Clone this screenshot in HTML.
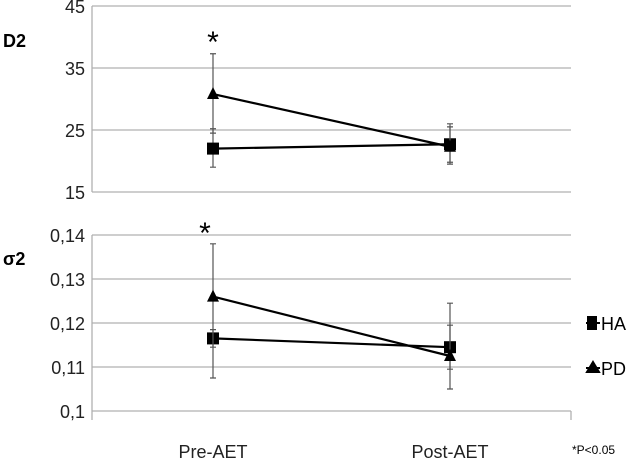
<!DOCTYPE html>
<html><head><meta charset="utf-8"><style>
body{margin:0;background:#fff;}
svg{display:block;font-family:"Liberation Sans",sans-serif;}
</style></head><body>
<svg id="c" width="633" height="462"></svg>
<script>
const categories=["Pre-AET","Post-AET"];
const d2HA=[22,22.7], d2HAerrLo=[19,19.5], d2HAerrHi=[25.2,25.5];
const d2PD=[30.8,22.3], d2PDerrLo=[24.5,19.8], d2PDerrHi=[37.3,26];
const s2HA=[0.1165,0.1145], s2HAerrLo=[0.1145,0.1095], s2HAerrHi=[0.1185,0.1195];
const s2PD=[0.126,0.1125], s2PDerrLo=[0.1075,0.105], s2PDerrHi=[0.138,0.1245];
const d2Ticks=[15,25,35,45], d2Labels=["15","25","35","45"];
const s2Ticks=[0.1,0.11,0.12,0.13,0.14], s2Labels=["0,1","0,11","0,12","0,13","0,14"];
const NS="http://www.w3.org/2000/svg", svg=document.getElementById('c');
function mk(t,a,txt){const e=document.createElementNS(NS,t);for(const k in a)e.setAttribute(k,a[k]);if(txt!=null)e.textContent=txt;svg.appendChild(e);return e;}
const L=92,R=571;
const xS=i=>[213,450][i];
function panel(ticks,labels,yS,HA,HAlo,HAhi,PD,PDlo,PDhi,name){
  ticks.forEach((t,i)=>{
    const g=mk('line',{x1:L,x2:R,y1:yS(t),y2:yS(t),stroke:'#b0b0b0','stroke-width':1.3});
    
    const tx=mk('text',{x:85,y:yS(t)+7,'text-anchor':'end','font-size':18,fill:'#222'},labels[i]);
    
  });
  const ax=mk('line',{x1:L,x2:L,y1:yS(ticks[ticks.length-1]),y2:yS(ticks[0])+(name==='sigma2'?9:0),stroke:'#b0b0b0','stroke-width':1.3});
  
  [[HA,HAlo,HAhi,'ha'],[PD,PDlo,PDhi,'pd']].forEach(([v,lo,hi,s])=>{
    v.forEach((_,i)=>{
      const x=xS(i);
      const e=mk('path',{d:`M${x},${yS(lo[i])}V${yS(hi[i])}M${x-3},${yS(lo[i])}h6M${x-3},${yS(hi[i])}h6`,stroke:'#555','stroke-width':1.2,fill:'none'});
      
    });
    const ln=mk('polyline',{points:v.map((y,i)=>xS(i)+','+yS(y)).join(' '),fill:'none',stroke:'#000','stroke-width':2.2});
    
    v.forEach((y,i)=>{
      const x=xS(i),yy=yS(y);let m;
      if(s==='ha')m=mk('rect',{x:x-6,y:yy-6,width:12,height:12,fill:'#000'});
      else m=mk('path',{d:`M${x},${yy-7}L${x+6},${yy+5}L${x-6},${yy+5}Z`,fill:'#000'});
      
    });
  });
}
const yD=v=>192-(v-15)/30*186;
const yS2=v=>411-(v-0.1)/0.04*176;
panel(d2Ticks,d2Labels,yD,d2HA,d2HAerrLo,d2HAerrHi,d2PD,d2PDerrLo,d2PDerrHi,'d2');
panel(s2Ticks,s2Labels,yS2,s2HA,s2HAerrLo,s2HAerrHi,s2PD,s2PDerrLo,s2PDerrHi,'sigma2');
const rt=mk('line',{x1:R,x2:R,y1:411,y2:420,stroke:'#b0b0b0','stroke-width':1.3});

let t;
t=mk('text',{x:3,y:47,'font-size':18,'font-weight':'bold'},'D2');
t=mk('text',{x:3,y:265,'font-size':18,'font-weight':'bold'},'σ2');
t=mk('text',{x:213,y:52,'font-size':30,'text-anchor':'middle'},'*');
t=mk('text',{x:205,y:243,'font-size':30,'text-anchor':'middle'},'*');
categories.forEach((c,i)=>{
  const x=mk('text',{x:xS(i),y:458,'font-size':18,'text-anchor':'middle',fill:'#222'},c);
  
});
t=mk('path',{d:'M586,323h14M588,317h8v12h-8z',stroke:'#000','stroke-width':2,fill:'#000'});
t=mk('text',{x:601,y:330,'font-size':18},'HA');
t=mk('path',{d:'M586,368h14M593,362L599,372H587Z',stroke:'#000','stroke-width':2,fill:'#000'});
t=mk('text',{x:601,y:375,'font-size':18},'PD');
t=mk('text',{x:572,y:454,'font-size':12},'*P<0.05');
</script>
</body></html>
